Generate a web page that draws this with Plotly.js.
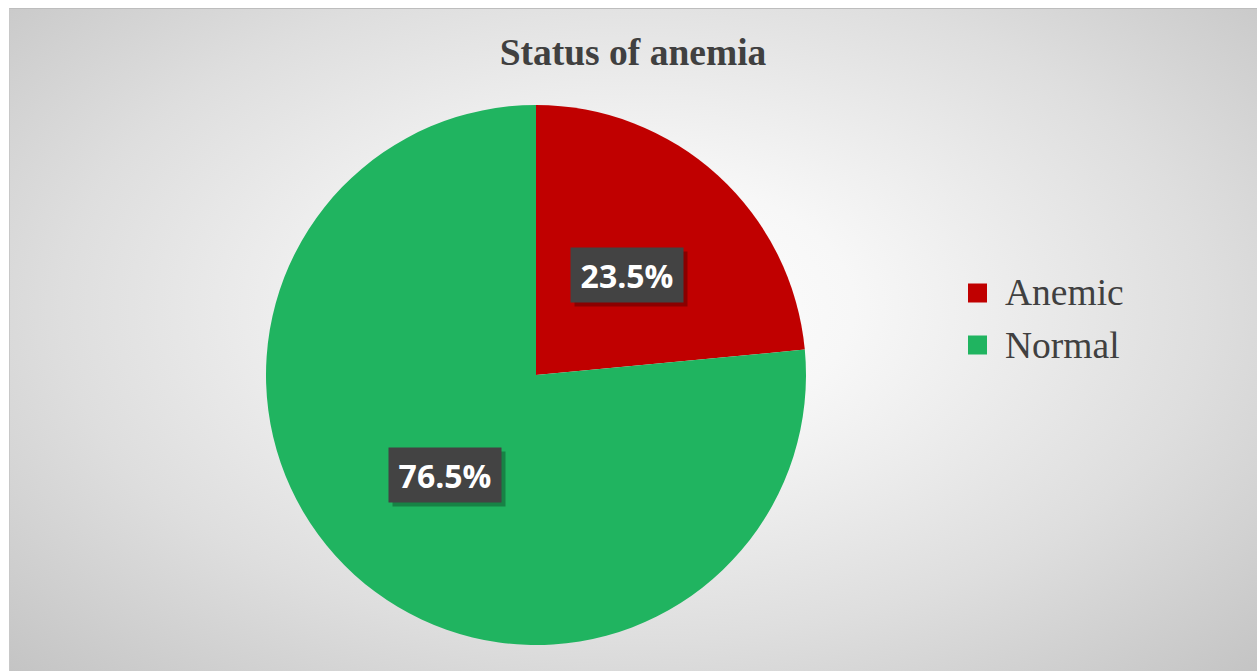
<!DOCTYPE html>
<html>
<head>
<meta charset="utf-8">
<script src="https://cdn.plot.ly/plotly-3.0.1.min.js"></script>
<style>
  html, body { margin: 0; padding: 0; background: #ffffff; }
  #bg { position: absolute; left: 9px; top: 8px; width: 1248px; height: 663px;
        background: radial-gradient(ellipse farthest-corner at 50% 45%, #ffffff 0%, #f7f7f7 25%, #dedede 65%, #c4c4c4 100%);
        border-top: 1px solid #bdbdbd; border-left: 1px solid #c8c8c8; box-sizing: border-box; }
  #chart { position: absolute; left: 0; top: 0; width: 1257px; height: 671px; }
</style>
</head>
<body>
<div id="bg"></div>
<div id="chart"></div>
<script>
const categories = ["Anemic", "Normal"];
const values = [23.5, 76.5];
const labelTexts = ["23.5%", "76.5%"];
const sliceColors = ["#C00000", "#20B460"];

const W = 1257, H = 671;
const cx = 536, cy = 375, R = 270;
const domX = [(cx - R) / W, (cx + R) / W];
const domY = [1 - (cy + R) / H, 1 - (cy - R) / H];

const total = values.reduce((a, b) => a + b, 0);
const annotations = [];
const shapes = [];
let acc = 0;
values.forEach((v, i) => {
  const mid = (acc + v / 2) / total * 2 * Math.PI;
  acc += v;
  const px = cx + 0.5 * R * Math.sin(mid);
  const py = cy - 0.5 * R * Math.cos(mid);
  const common = {xref: "paper", yref: "paper", x: px / W, y: 1 - py / H,
    xanchor: "center", yanchor: "middle", showarrow: false,
    width: 112, height: 54, borderpad: 0};
  annotations.push(Object.assign({}, common, {text: "", bgcolor: "rgba(0,0,0,0.28)", xshift: 4, yshift: -4}));
  annotations.push(Object.assign({}, common, {text: "<b>" + labelTexts[i] + "</b>", bgcolor: "#434343",
    font: {family: "Open Sans, sans-serif", size: 32, color: "#ffffff"}}));
});

// custom legend
categories.forEach((c, i) => {
  const ly = 293 + i * 52;
  shapes.push({type: "rect", xref: "paper", yref: "paper",
    x0: 968 / W, x1: 987 / W, y0: 1 - (ly + 9.5) / H, y1: 1 - (ly - 9.5) / H,
    fillcolor: sliceColors[i], line: {width: 0}});
  annotations.push({xref: "paper", yref: "paper", x: 1003 / W, y: 1 - ly / H,
    xanchor: "left", yanchor: "middle", showarrow: false, text: c,
    font: {family: "Liberation Serif, Times New Roman, serif", size: 37.5, color: "#404040"}});
});

const data = [{
  type: "pie",
  labels: categories,
  values: values,
  marker: {colors: sliceColors, line: {width: 0}},
  sort: false,
  direction: "clockwise",
  rotation: 0,
  textinfo: "none",
  hoverinfo: "label+percent",
  domain: {x: domX, y: domY},
  showlegend: false
}];

const layout = {
  width: W, height: H,
  margin: {l: 0, r: 0, t: 0, b: 0},
  paper_bgcolor: "rgba(0,0,0,0)",
  plot_bgcolor: "rgba(0,0,0,0)",
  title: {text: "<b>Status of anemia</b>", x: 633 / W, xref: "paper", xanchor: "center",
          y: 1 - 52 / H, yref: "paper", yanchor: "middle",
          font: {family: "Liberation Serif, Times New Roman, serif", size: 37.5, color: "#404040"}},
  showlegend: false,
  annotations: annotations,
  shapes: shapes
};

Plotly.newPlot("chart", data, layout, {displayModeBar: false, staticPlot: true});
</script>
</body>
</html>
